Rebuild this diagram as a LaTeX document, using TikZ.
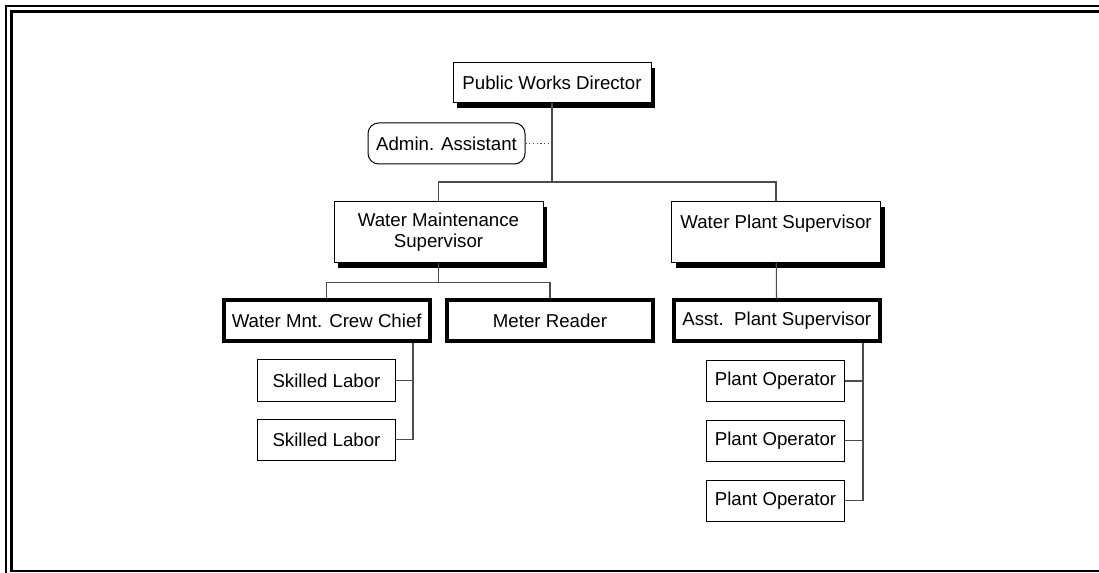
\documentclass[tikz,border=0pt]{standalone}
\usepackage{fontspec}
\setmainfont{Liberation Sans}
\usetikzlibrary{shadows}
\tikzset{
  orgbox/.style={draw, fill=white, line width=0.75pt, align=center, inner sep=0pt,
    font=\fontsize{14}{16}\selectfont},
  shbox/.style={orgbox, drop shadow={shadow xshift=3pt, shadow yshift=-4pt, fill=black, opacity=1}},
  thkbox/.style={orgbox, line width=3pt, minimum width=154.5pt, minimum height=30.75pt},
  smlbox/.style={orgbox, minimum width=103.5pt, minimum height=30.75pt},
  ln/.style={black!70, line width=0.8pt}
}

\begin{document}
\begin{tikzpicture}[x=0.75pt, y=-0.75pt]
            \clip (0,0) rectangle (1099,573);
            % frame
            \draw[line width=2pt] (6,6) rectangle (1120,600);
            \draw[line width=2pt] (11.5,11.5) rectangle (1110,571);
            % \SetUpBoxes
            \node[shbox, minimum width=148.5pt, minimum height=30pt] (dir) at (552,83) {Public Works Director};
            \node[orgbox, rounded corners=8pt, minimum width=117.75pt, minimum height=30.75pt] (adm) at (446.5,143.5) {Admin. Assistant};
            \node[shbox, minimum width=156.75pt, minimum height=45.75pt] (wms) at (438.5,232) {Water Maintenance\\Supervisor};
            \node[shbox, minimum width=156.75pt, minimum height=45.75pt] (wps) at (776,232) {Water Plant Supervisor\\\mbox{}};
            \node[thkbox] (chief) at (326.7,320.8) {Water Mnt. Crew Chief};
            \node[thkbox] (meter) at (550,320.8) {Meter Reader};
            \node[thkbox] (asst) at (776.7,320.8) {Asst.\ \ Plant Supervisor};
            \node[smlbox] (sl1) at (326.5,380.5) {Skilled Labor};
            \node[smlbox] (sl2) at (326.5,439.5) {Skilled Labor};
            \node[smlbox] (po1) at (775.5,381) {Plant Operator};
            \node[smlbox] (po2) at (775.5,440.5) {Plant Operator};
            \node[smlbox] (po3) at (775.5,500.5) {Plant Operator};
            \coordinate (j1) at (552,182);
            \coordinate (j2) at (438.5,282.5);
            \coordinate (cc) at (413,343);
            \coordinate (ac) at (863,343);
            \draw[ln] (dir) -- (j1);
            \draw[ln] (wms) |- (j1) -| (wps);
            \draw[ln, dotted] (adm) -- (adm -| dir);
            \draw[ln] (wms) -- (j2);
            \draw[ln] (chief) |- (j2) -| (meter);
            \draw[ln] (wps) -- (asst);
            \draw[ln] (cc) |- (sl2);
            \draw[ln] (sl1) -- (sl1 -| cc);
            \draw[ln] (ac) |- (po3);
            \draw[ln] (po1) -- (po1 -| ac);
            \draw[ln] (po2) -- (po2 -| ac);
        \end{tikzpicture}
\end{document}
